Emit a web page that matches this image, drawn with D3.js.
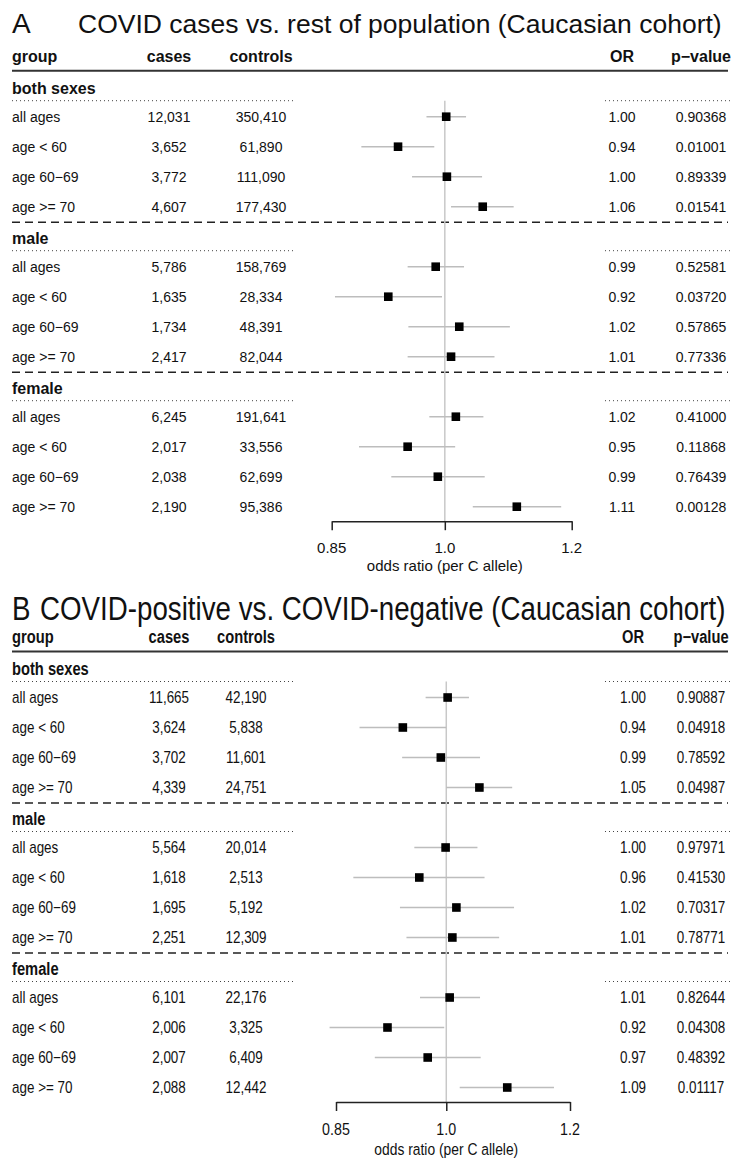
<!DOCTYPE html>
<html>
<head>
<meta charset="utf-8">
<script src="https://cdn.jsdelivr.net/npm/d3@7"></script>
<style>
  body { margin: 0; background: #fff; }
  text { font-family: "Liberation Sans", Arial, Helvetica, sans-serif; fill: #111; }
</style>
</head>
<body>
<svg id="chart" width="739" height="1159"></svg>
<script>
//* Data
const groups = ["both sexes", "male", "female"];
const ages = ["all ages", "age < 60", "age 60\u221269", "age >= 70"];
const tickVals = [0.85, 1.0, 1.2];
const tickLabels = ["0.85", "1.0", "1.2"];

// panel A: COVID cases vs. rest of population
const casesA = [12031, 3652, 3772, 4607, 5786, 1635, 1734, 2417, 6245, 2017, 2038, 2190];
const controlsA = [350410, 61890, 111090, 177430, 158769, 28334, 48391, 82044, 191641, 33556, 62699, 95386];
const orTextA = ["1.00", "0.94", "1.00", "1.06", "0.99", "0.92", "1.02", "1.01", "1.02", "0.95", "0.99", "1.11"];
const pA = ["0.90368", "0.01001", "0.89339", "0.01541", "0.52581", "0.03720", "0.57865", "0.77336", "0.41000", "0.11868", "0.76439", "0.00128"];
const orA = [1.002, 0.935, 1.003, 1.056, 0.987, 0.922, 1.021, 1.009, 1.016, 0.948, 0.990, 1.109];
const loA = [0.974, 0.887, 0.954, 1.009, 0.948, 0.854, 0.949, 0.948, 0.978, 0.884, 0.926, 1.041];
const hiA = [1.031, 0.985, 1.055, 1.104, 1.028, 0.996, 1.098, 1.074, 1.057, 1.015, 1.059, 1.182];

// panel B: COVID-positive vs. COVID-negative
const casesB = [11665, 3624, 3702, 4339, 5564, 1618, 1695, 2251, 6101, 2006, 2007, 2088];
const controlsB = [42190, 5838, 11601, 24751, 20014, 2513, 5192, 12309, 22176, 3325, 6409, 12442];
const orTextB = ["1.00", "0.94", "0.99", "1.05", "1.00", "0.96", "1.02", "1.01", "1.01", "0.92", "0.97", "1.09"];
const pB = ["0.90887", "0.04918", "0.78592", "0.04987", "0.97971", "0.41530", "0.70317", "0.78771", "0.82644", "0.04308", "0.48392", "0.01117"];
const orB = [1.002, 0.938, 0.992, 1.050, 0.999, 0.961, 1.015, 1.009, 1.005, 0.917, 0.973, 1.094];
const loB = [0.970, 0.880, 0.937, 1.000, 0.954, 0.872, 0.934, 0.943, 0.962, 0.842, 0.900, 1.020];
const hiB = [1.034, 1.000, 1.051, 1.102, 1.047, 1.058, 1.105, 1.081, 1.051, 0.997, 1.052, 1.172];

const fmt = d3.format(",");
const svg = d3.select("#chart");

function drawPanel(cfg) {
  const g = svg.append("g");
  const s = cfg.textScale;

  // all text goes through here so panel B can be condensed
  const txt = (x, y, str, size, weight, anchor) =>
    g.append("text")
      .attr("transform", `translate(${x},${y}) scale(${s},1)`)
      .attr("font-size", size)
      .attr("font-weight", weight || "normal")
      .attr("text-anchor", anchor || "start")
      .text(str);

  const x = d3.scaleLog().domain([0.85, 1.2]).range(cfg.xRange);
  const y = d3.scaleLinear().domain([0, 14]).range([cfg.y0, cfg.y0 + 420]);
  const lineOf = i => Math.floor(i / 4) * 5 + 1 + (i % 4);
  const axisY = y(14) + 14.5;

  //* title + header
  txt(12, cfg.titleY, cfg.letter, cfg.letterSize);
  txt(cfg.titleX, cfg.titleY, cfg.title, cfg.titleSize);

  const hy = cfg.y0 - 25;
  txt(12, hy, "group", cfg.headSize, "bold");
  txt(cfg.col.cases, hy, "cases", cfg.headSize, "bold", "middle");
  txt(cfg.col.controls, hy, "controls", cfg.headSize, "bold", "middle");
  txt(cfg.col.or, hy, "OR", cfg.headSize, "bold", "middle");
  txt(cfg.col.p, hy, "p\u2212value", cfg.headSize, "bold", "middle");

  g.append("line")
    .attr("x1", 12).attr("x2", 728)
    .attr("y1", cfg.y0 - 16).attr("y2", cfg.y0 - 16)
    .attr("stroke", "#333").attr("stroke-width", 2);

  //* group labels, dotted and dashed rules
  groups.forEach((grp, k) => {
    const ly = y(k * 5);
    txt(12, ly + 7, grp, cfg.headSize, "bold");
    [[12, 295], [605, 730]].forEach(([a, b]) => {
      g.append("line")
        .attr("x1", a).attr("x2", b)
        .attr("y1", ly + 14).attr("y2", ly + 14)
        .attr("stroke", "#444").attr("stroke-width", 1)
        .attr("stroke-dasharray", "1,3");
    });
    if (k < groups.length - 1) {
      const dy = y(k * 5 + 4) + 15.5;
      g.append("line")
        .attr("x1", 12).attr("x2", 728)
        .attr("y1", dy).attr("y2", dy)
        .attr("stroke", "#222").attr("stroke-width", 1.5)
        .attr("stroke-dasharray", "8,5");
    }
  });

  //* reference line at OR = 1
  g.append("line")
    .attr("x1", x(1)).attr("x2", x(1))
    .attr("y1", y(0) + 14).attr("y2", axisY)
    .attr("stroke", "#c8c8c8").attr("stroke-width", 1.5);

  //* row texts
  cfg.cases.forEach((c, i) => {
    const ry = y(lineOf(i)) + 5;
    txt(12, ry, ages[i % 4], cfg.bodySize);
    txt(cfg.col.cases, ry, fmt(c), cfg.bodySize, "normal", "middle");
    txt(cfg.col.controls, ry, fmt(cfg.controls[i]), cfg.bodySize, "normal", "middle");
    txt(cfg.col.or, ry, cfg.orText[i], cfg.bodySize, "normal", "middle");
    txt(cfg.col.p, ry, cfg.p[i], cfg.bodySize, "normal", "middle");
  });

  //* CI whiskers and point estimates
  g.selectAll(".ci")
    .data(cfg.or)
    .enter()
    .append("line")
    .attr("class", "ci")
    .attr("x1", (d, i) => x(cfg.lo[i]))
    .attr("x2", (d, i) => x(cfg.hi[i]))
    .attr("y1", (d, i) => y(lineOf(i)))
    .attr("y2", (d, i) => y(lineOf(i)))
    .attr("stroke", "#bdbdbd").attr("stroke-width", 1.5);

  const sq = 8.6;
  g.selectAll(".pt")
    .data(cfg.or)
    .enter()
    .append("rect")
    .attr("class", "pt")
    .attr("x", d => x(d) - sq / 2)
    .attr("y", (d, i) => y(lineOf(i)) - sq / 2)
    .attr("width", sq).attr("height", sq)
    .attr("fill", "#000");

  //* x axis
  const ax = g.append("g")
    .attr("transform", `translate(0,${axisY})`)
    .call(d3.axisBottom(x).tickValues(tickVals).tickFormat((d, i) => tickLabels[i]).tickSize(9).tickSizeOuter(0));
  ax.select(".domain").attr("stroke", "#222").attr("stroke-width", 1.5);
  ax.selectAll(".tick line").attr("stroke", "#222").attr("stroke-width", 1.5);
  ax.selectAll(".tick text").remove();
  tickVals.forEach((v, i) => txt(x(v), axisY + cfg.tickDy, tickLabels[i], cfg.tickSize, "normal", "middle"));
  txt(x(1), axisY + cfg.titleDy, "odds ratio (per C allele)", cfg.axisTitleSize, "normal", "middle");
}

drawPanel({
  letter: "A", letterSize: 28, title: "COVID cases vs. rest of population (Caucasian cohort)",
  titleX: 78, titleY: 32.5, titleSize: 26.5, textScale: 1,
  headSize: 16, bodySize: 14, tickSize: 15, axisTitleSize: 15, tickDy: 32, titleDy: 50,
  y0: 86.7, xRange: [331.7, 571.7],
  col: { cases: 169, controls: 261, or: 622, p: 701 },
  cases: casesA, controls: controlsA, orText: orTextA, p: pA, or: orA, lo: loA, hi: hiA
});

drawPanel({
  letter: "B", letterSize: 33, title: "COVID-positive vs. COVID-negative (Caucasian cohort)",
  titleX: 40, titleY: 620, titleSize: 33, textScale: 0.84,
  headSize: 17.5, bodySize: 16, tickSize: 17, axisTitleSize: 16.5, tickDy: 32.5, titleDy: 53,
  y0: 667.5, xRange: [336, 570],
  col: { cases: 169, controls: 246, or: 633, p: 701 },
  cases: casesB, controls: controlsB, orText: orTextB, p: pB, or: orB, lo: loB, hi: hiB
});
</script>
</body>
</html>
